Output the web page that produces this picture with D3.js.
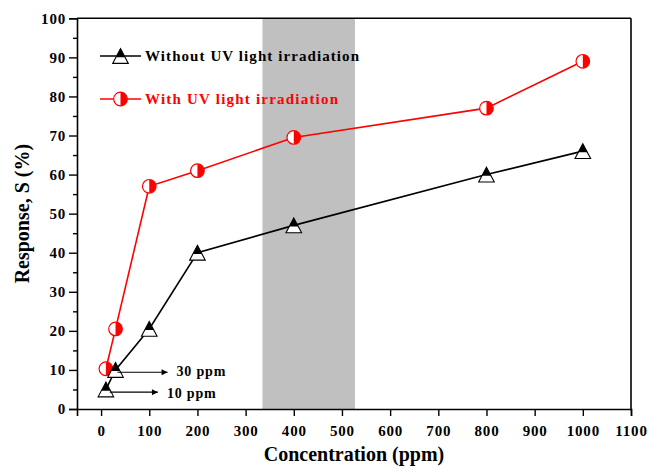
<!DOCTYPE html>
<html>
<head>
<meta charset="utf-8">
<script src="https://cdn.jsdelivr.net/npm/d3@7"></script>
<style>
  html, body { margin: 0; padding: 0; background: #fff; }
  svg { display: block; }
  text { font-family: "Liberation Serif", "Times New Roman", serif; font-weight: bold; }
</style>
</head>
<body>
<svg id="chart" width="649" height="468"></svg>
<script>
// Gas concentration (ppm) and sensor response S (%)
const concentrations = [10, 30, 100, 200, 400, 800, 1000];
const responseDark = [5, 10, 20.5, 40, 47, 60, 66];       // without UV light
const responseUV   = [10.3, 20.5, 57, 61, 69.5, 77, 89];  // with UV light
const xTicks = [0, 100, 200, 300, 400, 500, 600, 700, 800, 900, 1000, 1100];
const yTicks = [0, 10, 20, 30, 40, 50, 60, 70, 80, 90, 100];
const highlightRange = [335, 527];   // shaded concentration window
// Arrow annotations for the lowest concentrations: [x0, x1, y, label]
const notes = [
  { x0: 34, x1: 138, y: 9.4, label: "30 ppm", ty: 8.5 },
  { x0: 18, x1: 118, y: 4.3, label: "10 ppm", ty: 2.8 }
];

const svg = d3.select("#chart");
const L = 77, R = 631, T = 18.3, B = 409;

const x = d3.scaleLinear().domain([-50, 1100]).range([L, R]);
const y = d3.scaleLinear().domain([0, 100]).range([B, T]);

// shaded band
svg.append("rect")
  .attr("x", x(highlightRange[0])).attr("y", T)
  .attr("width", x(highlightRange[1]) - x(highlightRange[0]))
  .attr("height", B - T)
  .attr("fill", "#c0c0c0");

// axes
const xAxis = d3.axisBottom(x).tickValues(xTicks).tickSize(7).tickPadding(4).tickFormat(d3.format("d"));
const gx = svg.append("g").attr("transform", `translate(0,${B})`).call(xAxis);
const yMinor = d3.range(5, 100, 10);
svg.append("g").attr("transform", `translate(${L},0)`)
  .call(d3.axisLeft(y).tickValues(yMinor).tickSize(4).tickFormat(""))
  .call(g => g.select(".domain").remove());
const gy = svg.append("g").attr("transform", `translate(${L},0)`)
  .call(d3.axisLeft(y).tickValues(yTicks).tickSize(8).tickPadding(3));

svg.selectAll(".tick line").attr("stroke", "#000").attr("stroke-width", 1.4);
svg.selectAll(".domain").attr("stroke", "#000").attr("stroke-width", 1.6);
svg.selectAll(".tick text")
  .attr("font-size", 15).attr("fill", "#000")
  .style("letter-spacing", "0.8px")
  .style("font-family", "'Liberation Serif', serif").style("font-weight", "bold");
gx.selectAll(".tick text").attr("dy", "0.71em").attr("y", 16);

// frame top/right
svg.append("line").attr("x1", L).attr("x2", R).attr("y1", T).attr("y2", T)
  .attr("stroke", "#000").attr("stroke-width", 1.6);
svg.append("line").attr("x1", R).attr("x2", R).attr("y1", T).attr("y2", B)
  .attr("stroke", "#000").attr("stroke-width", 1.6);

// axis titles
svg.append("text")
  .attr("x", (L + R) / 2).attr("y", 461)
  .attr("text-anchor", "middle").attr("font-size", 20)
  .text("Concentration (ppm)");
svg.append("text")
  .attr("transform", `translate(29,${(T + B) / 2}) rotate(-90)`)
  .attr("text-anchor", "middle").attr("font-size", 20)
  .text("Response, S (%)");

// marker shapes
const triH = 7.4, triW = 7.8;
function drawTriangle(g) {
  const split = -triH + 2 * triH * 0.58;
  const k = (split + triH) / (2 * triH);
  g.append("path")
    .attr("d", `M0,${-triH}L${triW},${triH}L${-triW},${triH}Z`)
    .attr("fill", "#fff");
  g.append("path")
    .attr("d", `M0,${-triH}L${triW * k},${split}L${-triW * k},${split}Z`)
    .attr("fill", "#000");
  g.append("path")
    .attr("d", `M0,${-triH}L${triW},${triH}L${-triW},${triH}Z`)
    .attr("fill", "none").attr("stroke", "#000").attr("stroke-width", 1.1);
}
const rC = 6.8;
function drawCircle(g) {
  g.append("circle").attr("r", rC).attr("fill", "#fff");
  g.append("path")
    .attr("d", `M0,${-rC}A${rC},${rC} 0 0 1 0,${rC}Z`)
    .attr("fill", "#ff0000");
  g.append("circle").attr("r", rC).attr("fill", "none")
    .attr("stroke", "#ff0000").attr("stroke-width", 1.2);
}

const line = d3.line().x(d => x(d[0])).y(d => y(d[1]));
const uvData = concentrations.map((c, i) => [c, responseUV[i]]);
const darkData = concentrations.map((c, i) => [c, responseDark[i]]);

// with UV series
svg.append("path").datum(uvData).attr("d", line)
  .attr("fill", "none").attr("stroke", "#ff0000").attr("stroke-width", 1.6);
svg.selectAll(".uv").data(uvData).enter().append("g")
  .attr("transform", d => `translate(${x(d[0])},${y(d[1])})`)
  .each(function () { drawCircle(d3.select(this)); });

// without UV series
svg.append("path").datum(darkData).attr("d", line)
  .attr("fill", "none").attr("stroke", "#000").attr("stroke-width", 1.6);
svg.selectAll(".dark").data(darkData).enter().append("g")
  .attr("transform", d => `translate(${x(d[0])},${y(d[1])})`)
  .each(function () { drawTriangle(d3.select(this)); });

// arrows
svg.append("defs").append("marker")
  .attr("id", "arrow").attr("viewBox", "0 0 10 10")
  .attr("refX", 10).attr("refY", 5)
  .attr("markerWidth", 10).attr("markerHeight", 6)
  .attr("markerUnits", "userSpaceOnUse")
  .attr("orient", "auto")
  .append("path").attr("d", "M0,0L10,5L0,10Z").attr("fill", "#000");
notes.forEach(n => {
  svg.append("line")
    .attr("x1", x(n.x0)).attr("x2", x(n.x1))
    .attr("y1", y(n.y)).attr("y2", y(n.y))
    .attr("stroke", "#000").attr("stroke-width", 1.2)
    .attr("marker-end", "url(#arrow)");
  svg.append("text")
    .attr("x", x(n.x1) + 9).attr("y", y(n.ty))
    .attr("font-size", 14).style("letter-spacing", "0.8px")
    .text(n.label);
});

// legend
const legend = [
  { label: "Without UV light irradiation", color: "#000", draw: drawTriangle, y: 56, w: 214 },
  { label: "With UV light irradiation", color: "#ff0000", draw: drawCircle, y: 99, w: 193 }
];
legend.forEach(d => {
  const g = svg.append("g");
  g.append("line").attr("x1", 100).attr("x2", 141).attr("y1", d.y).attr("y2", d.y)
    .attr("stroke", d.color).attr("stroke-width", 1.6);
  const m = g.append("g").attr("transform", `translate(120.5,${d.y})`);
  d.draw(m);
  g.append("text").attr("x", 145).attr("y", d.y + 5)
    .attr("font-size", 15).attr("fill", d.color)
    .attr("textLength", d.w).attr("lengthAdjust", "spacing")
    .text(d.label);
});
</script>
</body>
</html>
